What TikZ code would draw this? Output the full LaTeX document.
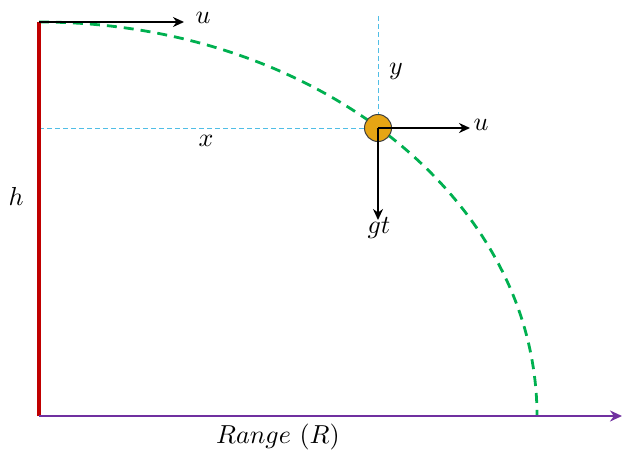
\documentclass[tikz,border=0pt]{standalone}
\usepackage{graphicx}
\usetikzlibrary{arrows.meta}
\definecolor{redl}{RGB}{192,0,0}
\definecolor{purp}{RGB}{112,48,160}
\definecolor{grn}{RGB}{0,176,80}
\definecolor{cyn}{RGB}{80,190,230}
\definecolor{ball}{RGB}{230,165,20}
\newcommand{\lbltxt}[1]{\scalebox{2.6}{$#1$}}
\tikzset{
  lab/.style={inner sep=1pt},
  vec/.style={-{Stealth[length=11pt,width=10pt]}, line width=2pt, black},
  guide/.style={cyn, line width=0.9pt, dash pattern=on 5pt off 3pt},
}
\begin{document}
\begin{tikzpicture}[x=1pt,y=-1pt]
\useasboundingbox (0,0) rectangle (623,450);
\coordinate (top) at (39,22);
\coordinate (orig) at (39,416);
\coordinate (rend) at (622,416);
\coordinate (uend) at (184,22);
\coordinate (P) at (378,128);
\coordinate (Px) at (39,128);
\coordinate (Py) at (378,16);
\coordinate (Pu) at (470,128);
\coordinate (Pg) at (378,220);
% guides
\draw[guide] (Px) -- (P);
\draw[guide] (Py) -- (P);
% trajectory: quarter ellipse centred at origin
\draw[grn, line width=2.8pt, dash pattern=on 10pt off 7pt] (top) arc[start angle=90, end angle=0, x radius=498, y radius=-394];
% height
\draw[redl, line width=3.8pt] (orig) -- (top);
% range axis
\draw[purp, line width=2.4pt, -{Stealth[length=12pt,width=11pt]}] (orig) -- (rend);
% top velocity
\draw[vec] (top) -- (uend);
% ball
\node[circle, draw=black!75, line width=1pt, fill=ball, minimum size=27pt, inner sep=0pt] (b) at (P) {};
\draw[vec] (P) -- (Pu);
\draw[vec] (P) -- (Pg);
% labels
\node[lab] (lu1) at (203,18) {\lbltxt{u}};
\node[lab] (lu2) at (481,125) {\lbltxt{u}};
\node[lab] (lgt) at (379,228) {\lbltxt{gt}};
\node[lab] (ly) at (396,71) {\lbltxt{y}};
\node[lab] (lx) at (206,141) {\lbltxt{x}};
\node[lab] (lh) at (16,196) {\lbltxt{h}};
\node[lab] (lr) at (278,437) {\lbltxt{Range\ (R)}};
\end{tikzpicture}
\end{document}
